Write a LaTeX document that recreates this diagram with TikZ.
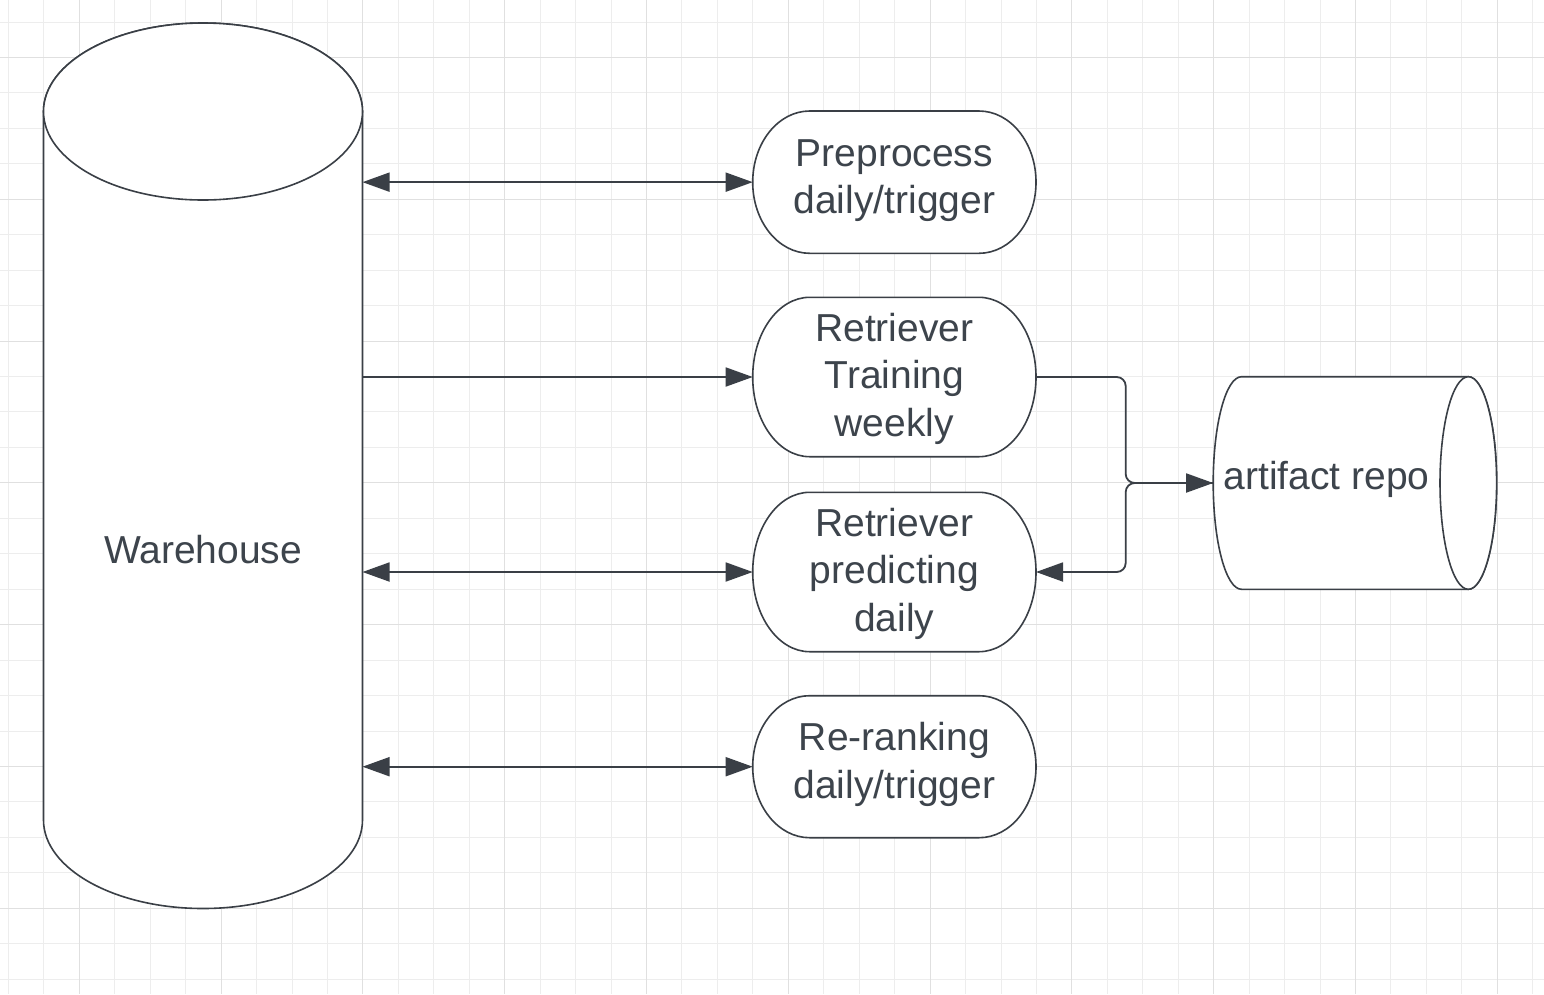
\documentclass[tikz,border=0pt]{standalone}
\usepackage{fontspec}
\setmainfont{Liberation Sans}
\usetikzlibrary{arrows.meta,calc}
\definecolor{ink}{HTML}{3A3F46}
\definecolor{txt}{HTML}{3D444C}
\definecolor{gminor}{HTML}{EDEDED}
\definecolor{gmajor}{HTML}{E0E0E0}
\pgfdeclarelayer{gridlayer}
\pgfdeclarelayer{outlinelayer}
\pgfsetlayers{gridlayer,outlinelayer,main}
\newcommand\stadiumoutline[3]{%
  \path[shp] ([xshift=#2]#1.north west) -- ([xshift=-#2]#1.north east)
    arc[start angle=90,end angle=-90,x radius=#2,y radius=#3]
    -- ([xshift=#2]#1.south west)
    arc[start angle=270,end angle=90,x radius=#2,y radius=#3] -- cycle;}
\begin{document}
\begin{tikzpicture}[x=1pt,y=1pt,
  shp/.style={draw=ink,line width=1.6pt,fill=white},
  box/.style={rectangle,inner sep=0pt,outer sep=0pt,text=txt,align=center,
    font=\fontsize{39}{47.5}\selectfont},
  twoline/.style={box,minimum width=283.3pt,text height=75.5pt,text depth=12.5pt},
  threeline/.style={box,minimum width=283.3pt,minimum height=159.4pt,text height=123pt,text depth=5pt},
  conn/.style={draw=ink,line width=1.8pt},
  >={Triangle[length=27pt,width=19pt]}
]
\useasboundingbox (0,0) rectangle (1544,-994);
\begin{pgfonlayer}{gridlayer}
  \fill[white] (0,0) rectangle (1544,-994);
  \foreach \k in {0,...,43} \draw[gminor,line width=1pt] ({8.4+35.45*\k},0) -- ({8.4+35.45*\k},-994);
  \foreach \k in {0,...,27} \draw[gminor,line width=1pt] (0,{-22-35.45*\k}) -- (1544,{-22-35.45*\k});
  \foreach \k in {0,...,10} \draw[gmajor,line width=1pt] ({79.3+141.8*\k},0) -- ({79.3+141.8*\k},-994);
  \foreach \k in {0,...,6} \draw[gmajor,line width=1pt] (0,{-57.5-141.8*\k}) -- (1544,{-57.5-141.8*\k});
\end{pgfonlayer}

% nodes
\node[box,minimum width=319pt,minimum height=708.5pt,text height=28pt,text depth=10pt] (wh) at (203,-554.25) {Warehouse};
\node[twoline,minimum height=142.3pt] (pp) at (894.35,-182.15) {Preprocess\\daily/trigger};
\node[threeline] (rt) at (894.35,-377) {Retriever\\Training\\weekly};
\node[threeline] (rp) at (894.35,-572) {Retriever\\predicting\\daily};
\node[twoline,minimum height=142pt] (rr) at (894.35,-766.7) {Re-ranking\\daily/trigger};
\node[box,minimum width=226.8pt,minimum height=212.6pt,text height=28pt,text depth=16pt] (art) at (1326.6,-483) {artifact repo};

% outlines
\begin{pgfonlayer}{outlinelayer}
  \path[shp] ([yshift=88.5pt]wh.north west) -- ([yshift=88.5pt]wh.south west)
    arc[start angle=180,end angle=360,x radius=159.5pt,y radius=88.5pt]
    -- ([yshift=88.5pt]wh.north east)
    arc[start angle=0,end angle=180,x radius=159.5pt,y radius=88.5pt] -- cycle;
  \draw[shp] ([yshift=88.5pt]wh.north) ellipse[x radius=159.5pt,y radius=88.5pt];
  \stadiumoutline{pp}{57pt}{71.15pt}
  \stadiumoutline{rt}{57pt}{79.7pt}
  \stadiumoutline{rp}{57pt}{79.7pt}
  \stadiumoutline{rr}{57pt}{71pt}
  \path[shp] ([xshift=28.3pt]art.north west) -- ([xshift=28.3pt]art.north east)
    arc[start angle=90,end angle=-90,x radius=28.3pt,y radius=106.3pt]
    -- ([xshift=28.3pt]art.south west)
    arc[start angle=270,end angle=90,x radius=28.3pt,y radius=106.3pt] -- cycle;
  \draw[shp] ([xshift=28.3pt]art.east) ellipse[x radius=28.3pt,y radius=106.3pt];
\end{pgfonlayer}

% connectors
\draw[conn,<->] (wh.east |- pp.west) -- (pp.west);
\draw[conn,->] (wh.east |- rt.west) -- (rt.west);
\draw[conn,<->] (wh.east |- rp.west) -- (rp.west);
\draw[conn,<->] (wh.east |- rr.west) -- (rr.west);
\coordinate (j) at (1125.7,-483);
\draw[conn,->,rounded corners=9pt] (rt.east) -| (j) -- (art.west);
\draw[conn,->,rounded corners=9pt] (art.west) -- (j) |- (rp.east);
\end{tikzpicture}
\end{document}
